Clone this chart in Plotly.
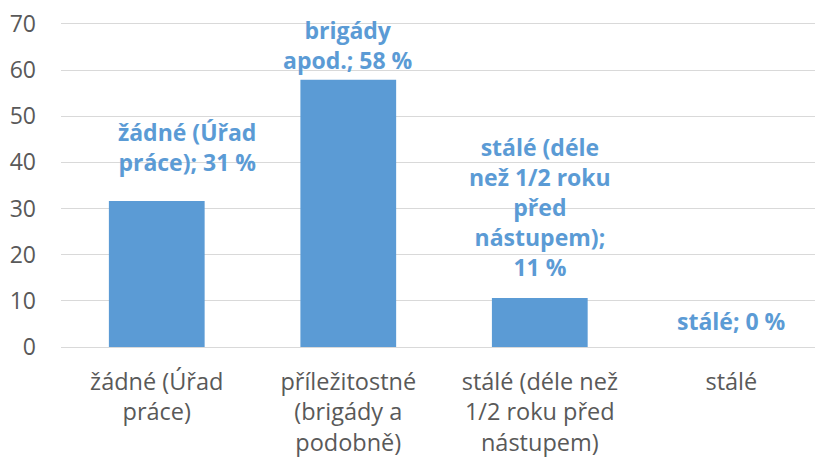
import plotly.graph_objects as go

categories = ["žádné (Úřad<br>práce)", "příležitostné<br>(brigády a<br>podobně)",
              "stálé (déle než<br>1/2 roku před<br>nástupem)", "stálé"]
values = [31.6, 57.9, 10.6, 0.0]
label_texts = ["žádné (Úřad<br>práce); 31 %", "brigády<br>apod.; 58 %",
               "stálé (déle<br>než 1/2 roku<br>před<br>nástupem);<br>11 %", "stálé; 0 %"]
y_ticks = [0, 10, 20, 30, 40, 50, 60, 70]

# label placement (style)
label_yshift = [21, 2, 13, 8]
label_xshift = [30, 0, 0, 0]

BLUE = "#5B9BD5"
FONT = "Open Sans, sans-serif"

fig = go.Figure(go.Bar(x=list(range(len(categories))), y=values,
                       marker=dict(color=BLUE, line=dict(width=0)), width=0.5))

for i, (v, t) in enumerate(zip(values, label_texts)):
    fig.add_annotation(x=i, y=v, text=t, showarrow=False, yanchor="bottom",
                       xanchor="center", yshift=label_yshift[i], xshift=label_xshift[i],
                       font=dict(family=FONT, size=23, color=BLUE, weight="bold"))

fig.update_layout(
    width=815, height=457,
    margin=dict(l=61, r=0, t=22, b=110, autoexpand=False),
    paper_bgcolor="white", plot_bgcolor="white",
    showlegend=False,
    font=dict(family=FONT, color="#595959"),
)
fig.update_xaxes(range=[-0.5, 3.437], tickmode="array", automargin=False,
                 tickvals=list(range(len(categories))), ticktext=categories,
                 tickfont=dict(size=23.5, color="#595959"), showgrid=False,
                 showline=False, zeroline=False, ticks="", ticklabelstandoff=18)
fig.update_yaxes(range=[0, 70.4], tickvals=y_ticks, showgrid=True, automargin=False,
                 gridcolor="#D9D9D9", gridwidth=1, zeroline=True,
                 zerolinecolor="#D9D9D9", zerolinewidth=1,
                 tickfont=dict(size=23, color="#595959"), ticks="", ticklabelstandoff=24)

fig.write_html("out.html", config={"displayModeBar": False},
               post_script="document.body.style.margin='0';document.body.style.overflow='hidden';")
